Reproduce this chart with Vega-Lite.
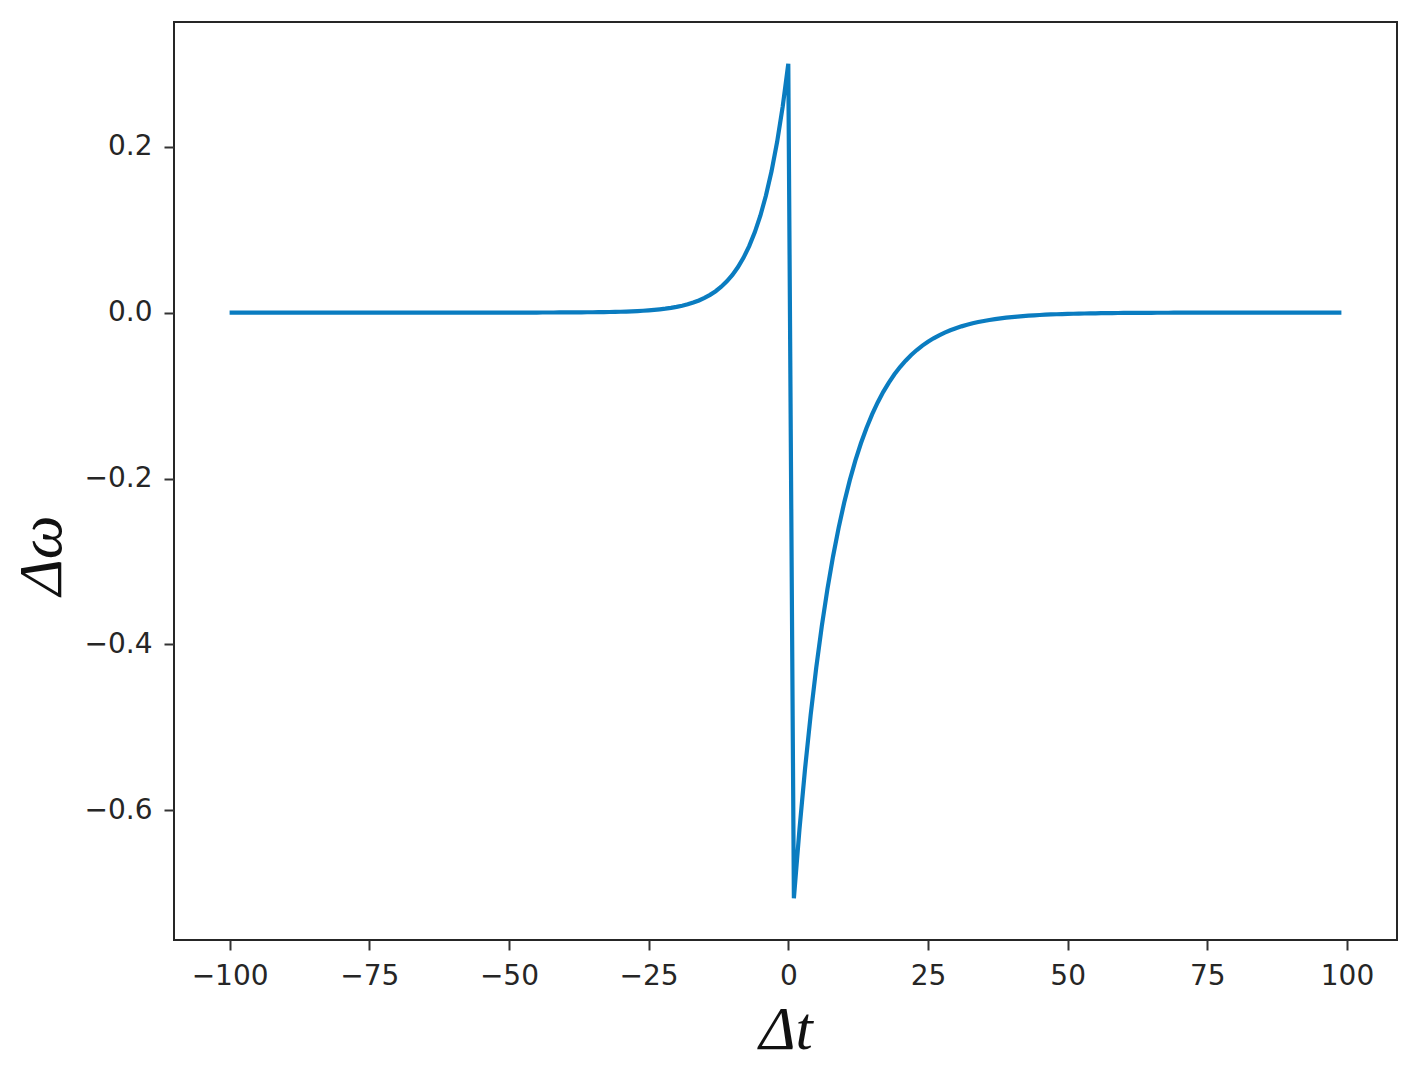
{
  "$schema": "https://vega.github.io/schema/vega-lite/v6.json",
  "autosize": "none",
  "width": 1223,
  "height": 918,
  "padding": {"left": 174, "top": 22, "right": 19, "bottom": 127},
  "background": "white",
  "config": {
    "view": {"stroke": "#262626", "strokeWidth": 2},
    "axis": {
      "domain": false,
      "grid": false,
      "ticks": true,
      "tickSize": 10,
      "tickWidth": 2,
      "tickColor": "#333333",
      "labelFont": "DejaVu Sans",
      "labelFontSize": 28,
      "labelColor": "#262626",
      "labelPadding": 12,
      "titleFont": "Liberation Serif",
      "titleFontStyle": "italic",
      "titleFontWeight": "normal",
      "titleFontSize": 62,
      "titleColor": "#111111"
    }
  },
  "data": {"values": [
    {"t":-100,"w":0},{"t":-99,"w":0},{"t":-98,"w":0},{"t":-97,"w":0},{"t":-96,"w":0},{"t":-95,"w":0},{"t":-94,"w":0},{"t":-93,"w":0},{"t":-92,"w":0},{"t":-91,"w":0},
    {"t":-90,"w":0},{"t":-89,"w":0},{"t":-88,"w":0},{"t":-87,"w":0},{"t":-86,"w":0},{"t":-85,"w":0},{"t":-84,"w":0},{"t":-83,"w":0},{"t":-82,"w":0},{"t":-81,"w":0},
    {"t":-80,"w":0},{"t":-79,"w":0},{"t":-78,"w":0},{"t":-77,"w":0},{"t":-76,"w":0},{"t":-75,"w":0},{"t":-74,"w":0},{"t":-73,"w":0},{"t":-72,"w":0},{"t":-71,"w":0},
    {"t":-70,"w":0},{"t":-69,"w":0},{"t":-68,"w":0},{"t":-67,"w":0},{"t":-66,"w":0},{"t":-65,"w":0},{"t":-64,"w":0},{"t":-63,"w":0},{"t":-62,"w":0},{"t":-61,"w":0},
    {"t":-60,"w":0},{"t":-59,"w":0},{"t":-58,"w":0},{"t":-57,"w":0},{"t":-56,"w":0},{"t":-55,"w":0},{"t":-54,"w":0},{"t":-53,"w":0},{"t":-52,"w":0},{"t":-51,"w":0},
    {"t":-50,"w":0},{"t":-49,"w":0},{"t":-48,"w":0},{"t":-47,"w":0},{"t":-46,"w":0},{"t":-45,"w":0},{"t":-44,"w":0.0001},{"t":-43,"w":0.0001},{"t":-42,"w":0.0001},{"t":-41,"w":0.0002},
    {"t":-40,"w":0.0002},{"t":-39,"w":0.0002},{"t":-38,"w":0.0003},{"t":-37,"w":0.0003},{"t":-36,"w":0.0004},{"t":-35,"w":0.00041},{"t":-34,"w":0.00049},{"t":-33,"w":0.00059},{"t":-32,"w":0.00072},{"t":-31,"w":0.00086},
    {"t":-30,"w":0.00104},{"t":-29,"w":0.00126},{"t":-28,"w":0.00152},{"t":-27,"w":0.00184},{"t":-26,"w":0.00222},{"t":-25,"w":0.00268},{"t":-24,"w":0.00324},{"t":-23,"w":0.00391},{"t":-22,"w":0.00473},{"t":-21,"w":0.00571},
    {"t":-20,"w":0.00689},{"t":-19,"w":0.00832},{"t":-18,"w":0.01005},{"t":-17,"w":0.01214},{"t":-16,"w":0.01466},{"t":-15,"w":0.0177},{"t":-14,"w":0.02138},{"t":-13,"w":0.02582},{"t":-12,"w":0.03118},{"t":-11,"w":0.03765},
    {"t":-10,"w":0.04547},{"t":-9,"w":0.05492},{"t":-8,"w":0.06632},{"t":-7,"w":0.08009},{"t":-6,"w":0.09672},{"t":-5,"w":0.1168},{"t":-4,"w":0.14105},{"t":-3,"w":0.17034},{"t":-2,"w":0.2057},{"t":-1,"w":0.24842},
    {"t":0,"w":0.3},{"t":1,"w":-0.706},{"t":2,"w":-0.62304},{"t":3,"w":-0.54983},{"t":4,"w":-0.48522},{"t":5,"w":-0.42821},{"t":6,"w":-0.37789},{"t":7,"w":-0.33349},{"t":8,"w":-0.2943},{"t":9,"w":-0.25972},
    {"t":10,"w":-0.2292},{"t":11,"w":-0.20227},{"t":12,"w":-0.1785},{"t":13,"w":-0.15753},{"t":14,"w":-0.13902},{"t":15,"w":-0.12268},{"t":16,"w":-0.10827},{"t":17,"w":-0.09555},{"t":18,"w":-0.08432},{"t":19,"w":-0.07441},
    {"t":20,"w":-0.06567},{"t":21,"w":-0.05795},{"t":22,"w":-0.05114},{"t":23,"w":-0.04513},{"t":24,"w":-0.03983},{"t":25,"w":-0.03515},{"t":26,"w":-0.03102},{"t":27,"w":-0.02737},{"t":28,"w":-0.02416},{"t":29,"w":-0.02132},
    {"t":30,"w":-0.01881},{"t":31,"w":-0.0166},{"t":32,"w":-0.01465},{"t":33,"w":-0.01293},{"t":34,"w":-0.01141},{"t":35,"w":-0.01007},{"t":36,"w":-0.00889},{"t":37,"w":-0.00784},{"t":38,"w":-0.00692},{"t":39,"w":-0.00611},
    {"t":40,"w":-0.00539},{"t":41,"w":-0.00476},{"t":42,"w":-0.0042},{"t":43,"w":-0.0037},{"t":44,"w":-0.00327},{"t":45,"w":-0.00288},{"t":46,"w":-0.00255},{"t":47,"w":-0.00225},{"t":48,"w":-0.00198},{"t":49,"w":-0.00175},
    {"t":50,"w":-0.00154},{"t":51,"w":-0.00136},{"t":52,"w":-0.0012},{"t":53,"w":-0.00106},{"t":54,"w":-0.00094},{"t":55,"w":-0.00083},{"t":56,"w":-0.00073},{"t":57,"w":-0.00064},{"t":58,"w":-0.00057},{"t":59,"w":-0.0005},
    {"t":60,"w":-0.00044},{"t":61,"w":-0.00039},{"t":62,"w":-0.00034},{"t":63,"w":-0.0003},{"t":64,"w":-0.00027},{"t":65,"w":-0.00024},{"t":66,"w":-0.00021},{"t":67,"w":-0.00018},{"t":68,"w":-0.00016},{"t":69,"w":-0.00014},
    {"t":70,"w":-0.00013},{"t":71,"w":-0.00011},{"t":72,"w":-0.0001},{"t":73,"w":-0.00009},{"t":74,"w":-0.00008},{"t":75,"w":-0.00007},{"t":76,"w":-0.00006},{"t":77,"w":-0.00005},{"t":78,"w":-0.00005},{"t":79,"w":-0.00004},
    {"t":80,"w":-0.00004},{"t":81,"w":-0.00003},{"t":82,"w":-0.00003},{"t":83,"w":-0.00003},{"t":84,"w":-0.00002},{"t":85,"w":-0.00002},{"t":86,"w":-0.00002},{"t":87,"w":-0.00001},{"t":88,"w":-0.00001},{"t":89,"w":-0.00001},
    {"t":90,"w":-0.00001},{"t":91,"w":-0.00001},{"t":92,"w":-0.00001},{"t":93,"w":0},{"t":94,"w":0},{"t":95,"w":0},{"t":96,"w":0},{"t":97,"w":0},{"t":98,"w":0},{"t":99,"w":0}
  ]},
  "mark": {"type": "line", "color": "#0a7cc0", "strokeWidth": 4.2, "clip": true},
  "encoding": {
    "x": {
      "field": "t",
      "type": "quantitative",
      "scale": {"domain": [-109.95, 108.95], "nice": false, "zero": false},
      "axis": {
        "values": [-100, -75, -50, -25, 0, 25, 50, 75, 100],
        "format": "d",
        "title": "Δt",
        "titleY": 108,
        "titleBaseline": "alphabetic",
        "titleAnchor": "middle"
      }
    },
    "y": {
      "field": "w",
      "type": "quantitative",
      "scale": {"domain": [-0.7563, 0.3503], "nice": false, "zero": false},
      "axis": {
        "values": [-0.6, -0.4, -0.2, 0, 0.2],
        "format": ".1f",
        "title": "Δω",
        "titleAngle": -90,
        "titleX": -114,
        "titleY": 533,
        "titleAlign": "center",
        "titleBaseline": "alphabetic"
      }
    }
  }
}
